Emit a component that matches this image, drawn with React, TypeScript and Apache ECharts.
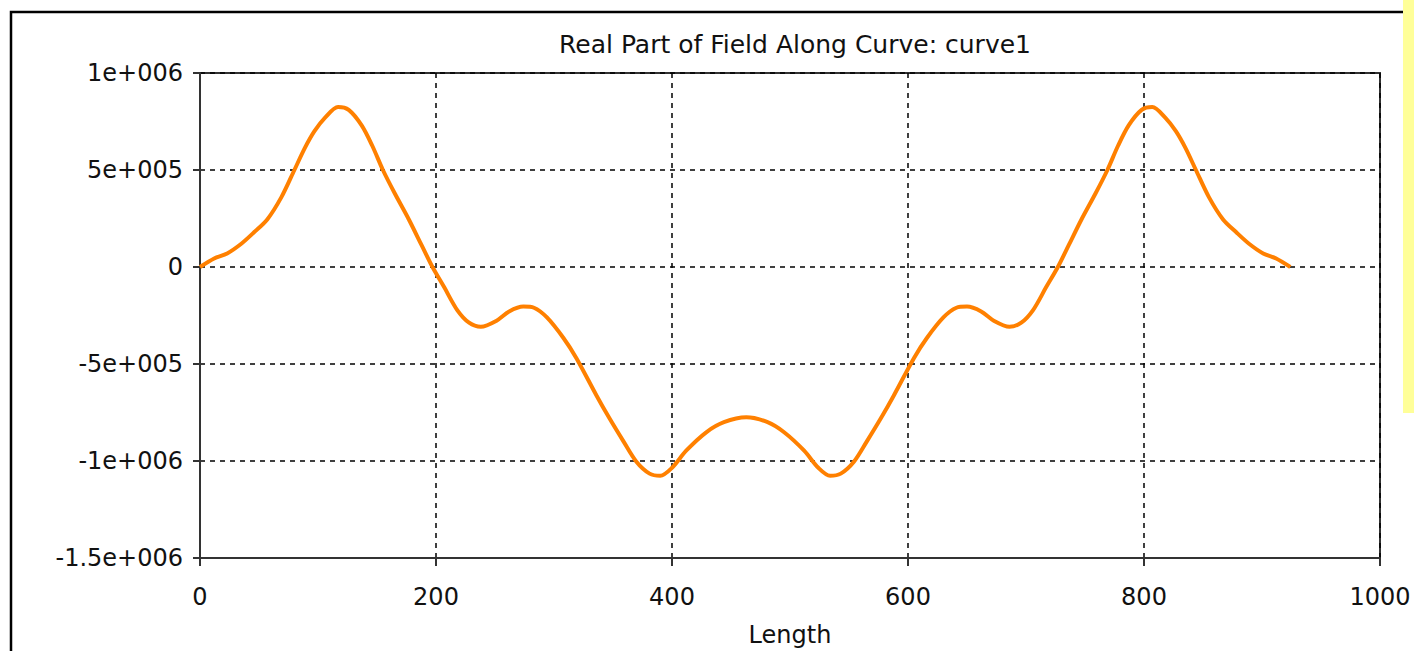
import React, { useEffect, useRef } from "react";
import * as echarts from "echarts";

const titleText = "Real Part of Field Along Curve: curve1";
const xAxisName = "Length";
const yTickLabels = ["-1.5e+006", "-1e+006", "-5e+005", "0", "5e+005", "1e+006"];
const xTickLabels = ["0", "200", "400", "600", "800", "1000"];

const lengthValues = [
  0, 12, 23, 35, 46, 57, 69, 80, 89, 97, 106, 117, 126, 137, 146, 155, 165, 177, 188, 197,
  207, 218, 228, 238, 251, 262, 274, 283, 294, 308, 319, 336, 347, 359, 370, 381, 390, 400,
  412, 429, 444, 463, 481, 495, 512, 524, 534, 543, 554, 565, 577, 588, 605, 616, 630, 641,
  650, 662, 673, 686, 696, 706, 717, 727, 736, 747, 759, 769, 778, 787, 798, 807, 818, 827,
  835, 844, 855, 867, 878, 889, 901, 912, 924,
];
const realValues = [
  0, 44000, 70000, 120000, 180000, 245000, 360000, 500000, 615000, 700000, 770000, 825000,
  810000, 730000, 625000, 500000, 380000, 245000, 110000, 0, -105000, -222000, -287000,
  -308000, -278000, -229000, -204000, -210000, -260000, -366000, -470000, -662000, -780000,
  -900000, -1005000, -1065000, -1076000, -1035000, -947000, -852000, -800000, -775000,
  -800000, -852000, -947000, -1035000, -1076000, -1065000, -1005000, -900000, -780000,
  -662000, -470000, -366000, -260000, -210000, -204000, -229000, -278000, -308000, -287000,
  -222000, -105000, 0, 110000, 245000, 380000, 500000, 625000, 730000, 810000, 825000,
  770000, 700000, 615000, 500000, 360000, 245000, 180000, 120000, 70000, 44000, 0,
];

export default function App() {
  const ref = useRef<HTMLDivElement>(null);
  useEffect(() => {
    if (!ref.current) return;
    const chart = echarts.init(ref.current, null, { renderer: "svg" });
    const font = "DejaVu Sans";
    const yMin = -1500000;
    const yInt = 500000;
    chart.setOption({
      animation: false,
      backgroundColor: "#ffffff",
      title: {
        text: titleText,
        left: 790,
        textAlign: "center",
        top: 27,
        textStyle: { fontFamily: font, fontSize: 25, fontWeight: "normal", color: "#111" },
      },
      graphic: [
        {
          type: "polyline",
          shape: { points: [[11, 700], [11, 12], [1403, 12]] },
          style: { stroke: "#000", lineWidth: 2.5, fill: null },
        },
        {
          type: "rect",
          shape: { x: 1403, y: 0, width: 11, height: 413 },
          style: { fill: "#FFFF99" },
        },
      ],
      grid: {
        left: 200,
        top: 73,
        right: 34,
        bottom: 93,
        outerBoundsMode: "none",
        containLabel: false,
        show: true,
        borderColor: "#333",
        borderWidth: 2,
        backgroundColor: "transparent",
      },
      xAxis: {
        type: "value",
        min: 0,
        max: 1000,
        interval: 200,
        name: xAxisName,
        nameLocation: "middle",
        nameGap: 65,
        nameTextStyle: { fontFamily: font, fontSize: 24, color: "#111" },
        axisLine: { show: true, onZero: false, lineStyle: { color: "#333", width: 2 } },
        axisTick: { show: true, length: 8, lineStyle: { color: "#333", width: 2 } },
        axisLabel: {
          fontFamily: font,
          fontSize: 24,
          color: "#111",
          margin: 27,
          formatter: (v: number) => xTickLabels[Math.round(v / 200)] ?? "",
        },
        splitLine: { show: true, lineStyle: { color: "#000", type: [5, 5], width: 1.5 } },
      },
      yAxis: {
        type: "value",
        min: yMin,
        max: 1000000,
        interval: yInt,
        axisLine: { show: true, onZero: false, lineStyle: { color: "#333", width: 2 } },
        axisTick: { show: true, length: 7, lineStyle: { color: "#333", width: 2 } },
        axisLabel: {
          fontFamily: font,
          fontSize: 24,
          color: "#111",
          margin: 17,
          formatter: (v: number) => yTickLabels[Math.round((v - yMin) / yInt)] ?? "",
        },
        splitLine: { show: true, lineStyle: { color: "#000", type: [5, 5], width: 1.5 } },
      },
      series: [
        {
          type: "line",
          data: lengthValues.map((x, i) => [x, realValues[i]]),
          showSymbol: false,
          smooth: 0.3,
          lineStyle: { color: "#FF8000", width: 4 },
        },
      ],
    });
    return () => chart.dispose();
  }, []);
  return (
    <div
      ref={ref}
      style={{ position: "fixed", left: 0, top: 0, width: 1414, height: 651, background: "#fff" }}
    />
  );
}
